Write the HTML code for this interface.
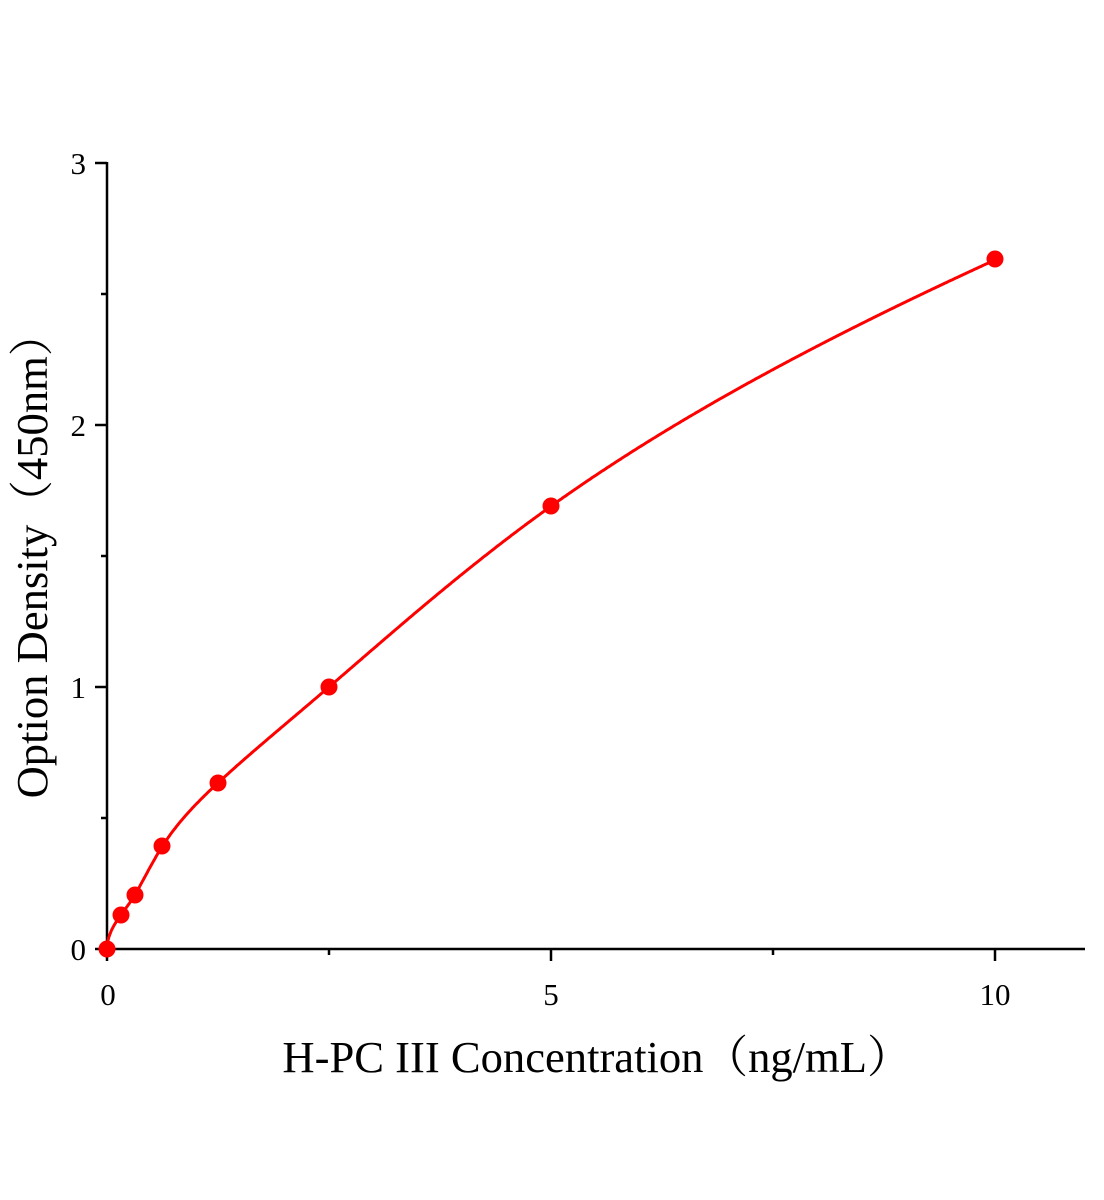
<!DOCTYPE html>
<html><head><style>
html,body{margin:0;padding:0;background:#fff;}
svg{display:block;}
text{font-family:"Liberation Serif","Noto Serif CJK SC",serif;fill:#000;}
</style></head><body>
<svg width="1104" height="1200" viewBox="0 0 1104 1200">
<g stroke="#000" stroke-width="2.5" fill="none">
<line x1="107" y1="162" x2="107" y2="950"/>
<line x1="106" y1="949" x2="1085" y2="949"/>
<line x1="95" y1="949" x2="107" y2="949"/>
<line x1="95" y1="687" x2="107" y2="687"/>
<line x1="95" y1="425" x2="107" y2="425"/>
<line x1="95" y1="163" x2="107" y2="163"/>
<line x1="101" y1="818" x2="107" y2="818"/>
<line x1="101" y1="556" x2="107" y2="556"/>
<line x1="101" y1="294" x2="107" y2="294"/>
<line x1="107" y1="949" x2="107" y2="961"/>
<line x1="551" y1="949" x2="551" y2="961"/>
<line x1="995" y1="949" x2="995" y2="961"/>
<line x1="329" y1="949" x2="329" y2="955"/>
<line x1="773" y1="949" x2="773" y2="955"/>
</g>
<g font-size="31" text-anchor="end">
<text x="86" y="960">0</text>
<text x="86" y="698">1</text>
<text x="86" y="436">2</text>
<text x="86" y="174">3</text>
</g>
<g font-size="31" text-anchor="middle">
<text x="108" y="1005">0</text>
<text x="551" y="1005">5</text>
<text x="995" y="1005">10</text>
</g>
<text x="597" y="1072" font-size="44.6" text-anchor="middle">H-PC III Concentration（ng/mL）</text>
<text transform="translate(47,555) rotate(-90)" font-size="44.6" text-anchor="middle">Option Density（450nm）</text>
<polyline id="crv" points="" stroke="#f00" stroke-width="3" fill="none"/>
<g fill="#f00">
<circle cx="107" cy="949" r="8.5"/>
<circle cx="121" cy="915" r="8.5"/>
<circle cx="135" cy="895" r="8.5"/>
<circle cx="162" cy="846" r="8.5"/>
<circle cx="218" cy="783" r="8.5"/>
<circle cx="329" cy="687" r="8.5"/>
<circle cx="551" cy="506" r="8.5"/>
<circle cx="995" cy="259" r="8.5"/>
</g>
</svg>
<script>
(function(){
var xs=[0,0.156,0.3125,0.625,1.25,2.5,5,10];
var fs=[0,0.13,0.206,0.393,0.634,1.0,1.69,2.63];
var u=xs.map(Math.sqrt),n=u.length;
var h=[],al=[],l=[1],mu=[0],z=[0],c=new Array(n).fill(0),b=[],d=[];
for(var i=0;i<n-1;i++)h[i]=u[i+1]-u[i];
for(i=1;i<n-1;i++)al[i]=3/h[i]*(fs[i+1]-fs[i])-3/h[i-1]*(fs[i]-fs[i-1]);
for(i=1;i<n-1;i++){l[i]=2*(u[i+1]-u[i-1])-h[i-1]*mu[i-1];mu[i]=h[i]/l[i];z[i]=(al[i]-h[i-1]*z[i-1])/l[i];}
for(var j=n-2;j>=0;j--){c[j]=z[j]-mu[j]*c[j+1];b[j]=(fs[j+1]-fs[j])/h[j]-h[j]*(c[j+1]+2*c[j])/3;d[j]=(c[j+1]-c[j])/(3*h[j]);}
var pts=[];
for(var k=0;k<=1000;k++){
 var x=10*k/1000,s=Math.sqrt(x),seg=0;
 while(seg<n-2&&s>u[seg+1])seg++;
 var t=s-u[seg],f=fs[seg]+b[seg]*t+c[seg]*t*t+d[seg]*t*t*t;
 pts.push((107+88.8*x).toFixed(1)+","+(949-262*f).toFixed(1));
}
document.getElementById('crv').setAttribute('points',pts.join(' '));
})();
</script>
</body></html>
